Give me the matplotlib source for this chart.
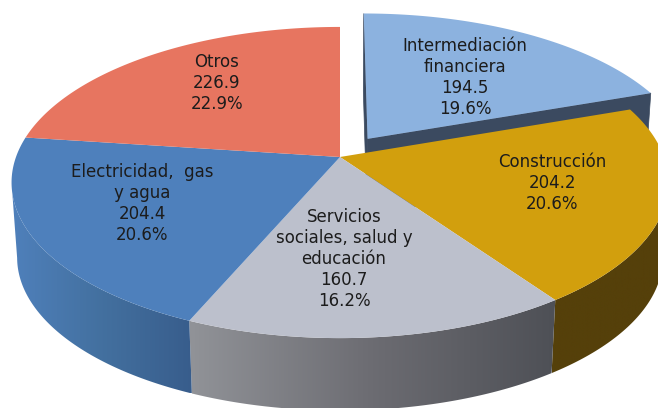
import numpy as np
import matplotlib
matplotlib.use('Agg')
import matplotlib.pyplot as plt
from matplotlib.colors import LinearSegmentedColormap
from matplotlib.patches import Polygon

# clockwise from the top of the pie
names = ['Intermediación\nfinanciera', 'Construcción', 'Servicios\nsociales, salud y\neducación',
         'Electricidad,  gas\ny agua', 'Otros']
values = [194.5, 204.2, 160.7, 204.4, 226.9]
percents = ['19.6%', '20.6%', '16.2%', '20.6%', '22.9%']
explode = [0.15, 0, 0, 0, 0]

top_colors = ['#8cb2df', '#d29f0d', '#bcc0cc', '#4e80bc', '#e77560']
# left to right along the visible wall
wall_colors = [['#3b4a60', '#3b4a60'], ['#55400a', '#55400a'], ['#919398', '#6c6c72', '#4e5056'],
               ['#4f80bb', '#43709f', '#385d8c'], ['#a85545', '#a85545']]
label_pos = [(465, 46), (552, 162), (344, 217), (142, 172), (217, 62)]

CX, CY = 340, 157
RX, RY, K = 324, 151.4, 0.164
CY_BOTTOM, SCALE_BOTTOM = 232.5, 0.983


def project(u, v, bottom=False):
    d = 1 + K * v
    if bottom:
        return CX + SCALE_BOTTOM * RX * u / d, CY_BOTTOM - SCALE_BOTTOM * RY * v / d
    return CX + RX * u / d, CY - RY * v / d


fig = plt.figure(figsize=(6.58, 4.08), dpi=100)
ax = fig.add_axes([0, 0, 1, 1])

fractions = np.array(values) / sum(values)
edges = np.radians(90 - 360 * np.concatenate([[0], np.cumsum(fractions)]))


def draw_slice(i):
    a = np.linspace(edges[i], edges[i + 1], 400)
    mid = (edges[i] + edges[i + 1]) / 2
    ou, ov = explode[i] * np.cos(mid), explode[i] * np.sin(mid)
    u = np.cos(a) + ou
    v = np.sin(a) + ov
    if explode[i] > 0:
        # cut faces of the pulled out slice
        for end in (0, -1):
            x1, y1 = project(ou, ov)
            x2, y2 = project(u[end], v[end])
            x3, y3 = project(u[end], v[end], True)
            x4, y4 = project(ou, ov, True)
            ax.fill([x1, x2, x3, x4], [y1, y2, y3, y4], color=wall_colors[i][0], lw=0.5, zorder=0)
    else:
        # only the part of the rim below the silhouette point shows
        front = np.sin(a) <= -K
        if front.any():
            x1, y1 = project(u[front], v[front])
            x2, y2 = project(u[front], v[front], True)
            px = np.r_[x1, x2[::-1]]
            py = np.r_[y1, y2[::-1]]
            cmap = LinearSegmentedColormap.from_list('w', wall_colors[i])
            im = ax.imshow(np.linspace(0, 1, 256).reshape(1, -1), cmap=cmap, aspect='auto',
                           extent=[px.min(), px.max(), py.max(), py.min()], zorder=1)
            im.set_clip_path(Polygon(np.c_[px, py], transform=ax.transData))
    x, y = project(np.r_[ou, u], np.r_[ov, v])
    ax.fill(x, y, color=top_colors[i], lw=0, zorder=2 if explode[i] == 0 else 0.5)


for i in range(len(values)):
    draw_slice(i)

for i in range(len(values)):
    ax.text(label_pos[i][0], label_pos[i][1] - 9,
            '%s\n%.1f\n%s' % (names[i], values[i], percents[i]),
            ha='center', va='top', fontsize=12, color='#1c1c1c',
            family='DejaVu Sans', linespacing=1.21, zorder=5)

ax.set_xlim(0, 658)
ax.set_ylim(408, 0)
ax.axis('off')
fig.savefig('out.png', dpi=100)
